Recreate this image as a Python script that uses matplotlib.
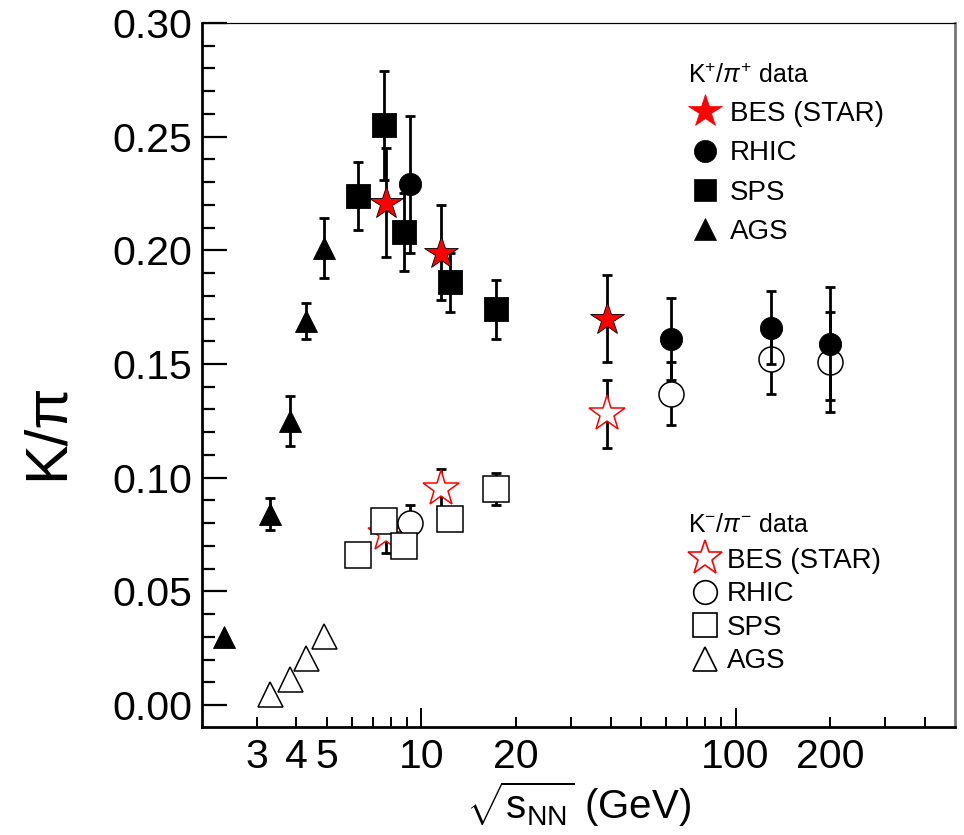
import matplotlib
matplotlib.use("Agg")
import matplotlib.pyplot as plt
from matplotlib.lines import Line2D
from matplotlib.ticker import FixedLocator, FixedFormatter, MultipleLocator, FormatStrFormatter

plt.rcParams['font.family'] = ['Liberation Sans', 'DejaVu Sans']
plt.rcParams['mathtext.fontset'] = 'custom'
plt.rcParams['mathtext.rm'] = 'Liberation Sans'
plt.rcParams['mathtext.it'] = 'Liberation Sans:italic'
plt.rcParams['mathtext.bf'] = 'Liberation Sans:bold'

# ---------------- data: K+/pi+ ----------------
bes_p_x = [7.7, 11.5, 39.0]
bes_p_y = [0.221, 0.199, 0.170]
bes_p_e = [0.024, 0.021, 0.019]

rhic_p_x = [9.2, 62.4, 130.0, 200.0]
rhic_p_y = [0.229, 0.161, 0.166, 0.159]
rhic_p_e = [0.030, 0.018, 0.016, 0.025]

sps_p_x = [6.3, 7.6, 8.8, 12.3, 17.3]
sps_p_y = [0.224, 0.255, 0.208, 0.186, 0.174]
sps_p_e = [0.015, 0.024, 0.017, 0.013, 0.013]

ags_p_x = [2.35, 3.3, 3.8, 4.3, 4.9]
ags_p_y = [0.030, 0.084, 0.125, 0.169, 0.201]
ags_p_e = [0.0, 0.007, 0.011, 0.008, 0.013]

# ---------------- data: K-/pi- ----------------
bes_m_x = [7.7, 11.5, 39.0]
bes_m_y = [0.075, 0.095, 0.128]
bes_m_e = [0.008, 0.009, 0.015]

rhic_m_x = [9.2, 62.4, 130.0, 200.0]
rhic_m_y = [0.080, 0.137, 0.152, 0.151]
rhic_m_e = [0.008, 0.014, 0.015, 0.022]

sps_m_x = [6.3, 7.6, 8.8, 12.3, 17.3]
sps_m_y = [0.066, 0.081, 0.070, 0.082, 0.095]
sps_m_e = [0.003, 0.004, 0.004, 0.005, 0.007]

ags_m_x = [3.3, 3.8, 4.3, 4.9]
ags_m_y = [0.0048, 0.0115, 0.0205, 0.0305]
ags_m_e = [0.0, 0.0, 0.0, 0.0]

xtick_vals = [3, 4, 5, 10, 20, 100, 200]
series_labels = ['BES (STAR)', 'RHIC', 'SPS', 'AGS']

RED = '#ff0000'

fig = plt.figure(figsize=(9.64, 8.35), dpi=100)
ax = fig.add_axes([0.2095, 0.1293, 0.7812, 0.8432])
ax.set_xscale('log')
ax.set_xlim(2.0, 500.0)
ax.set_ylim(-0.0097, 0.30)

eb_kw = dict(fmt='none', ecolor='black', elinewidth=2.0, capsize=3.5, capthick=2.0)

# open (K-/pi-) series
open_series = [
    (bes_m_x, bes_m_y, bes_m_e, '*', 27, RED),
    (rhic_m_x, rhic_m_y, rhic_m_e, 'o', 18, 'black'),
    (sps_m_x, sps_m_y, sps_m_e, 's', 19, 'black'),
    (ags_m_x, ags_m_y, ags_m_e, '^', 18, 'black'),
]
for xs, ys, es, m, ms, ec in open_series:
    ax.errorbar(xs, ys, yerr=es, zorder=2, **eb_kw)
for xs, ys, es, m, ms, ec in open_series:
    ax.plot(xs, ys, linestyle='none', marker=m, markersize=ms, markerfacecolor='white',
            markeredgecolor=ec, markeredgewidth=1.1, zorder=3)

# filled (K+/pi+) series
filled_series = [
    (ags_p_x, ags_p_y, ags_p_e, '^', 16, 'black', 'black'),
    (sps_p_x, sps_p_y, sps_p_e, 's', 17, 'black', 'black'),
    (rhic_p_x, rhic_p_y, rhic_p_e, 'o', 16, 'black', 'black'),
    (bes_p_x, bes_p_y, bes_p_e, '*', 25, RED, 'black'),
]
for xs, ys, es, m, ms, fc, ec in filled_series:
    ax.errorbar(xs, ys, yerr=es, zorder=4, **eb_kw)
for xs, ys, es, m, ms, fc, ec in filled_series:
    ax.plot(xs, ys, linestyle='none', marker=m, markersize=ms, markerfacecolor=fc,
            markeredgecolor=ec, markeredgewidth=0.6, zorder=5)

# ---------------- axes styling ----------------
ax.yaxis.set_major_locator(MultipleLocator(0.05))
ax.yaxis.set_minor_locator(MultipleLocator(0.01))
ax.yaxis.set_major_formatter(FormatStrFormatter('%.2f'))

major_x = [10, 100]
minor_x = [3, 4, 5, 6, 7, 8, 9, 20, 30, 40, 50, 60, 70, 80, 90, 200, 300, 400]
ax.xaxis.set_major_locator(FixedLocator(major_x))
ax.xaxis.set_major_formatter(FixedFormatter([str(v) for v in major_x]))
ax.xaxis.set_minor_locator(FixedLocator(minor_x))
ax.xaxis.set_minor_formatter(FixedFormatter([str(v) if v in xtick_vals else '' for v in minor_x]))

ax.tick_params(axis='y', which='major', direction='in', length=18, width=1.6, labelsize=29.5, pad=7)
ax.tick_params(axis='y', which='minor', direction='in', length=9.5, width=1.6)
ax.tick_params(axis='x', which='major', direction='in', length=14, width=1.4, labelsize=29.5, pad=8)
ax.tick_params(axis='x', which='minor', direction='in', length=7, width=1.4, labelsize=29.5, pad=8)
ax.tick_params(top=False, right=False, which='both')

ax.spines['left'].set_linewidth(2.0)
ax.spines['bottom'].set_linewidth(2.0)
ax.spines['top'].set_linewidth(0.9)
ax.spines['right'].set_linewidth(2.0)
ax.spines['right'].set_color('#777777')

ax.set_ylabel('K/π', fontsize=43)
ax.yaxis.set_label_coords(-0.169, 0.42)
ax.set_xlabel(r'$\sqrt{\mathrm{s}_{\mathrm{NN}}}$ (GeV)', fontsize=29, labelpad=2)

# ---------------- legends ----------------
def handles(filled):
    out = []
    specs = [('*', RED), ('o', 'black'), ('s', 'black'), ('^', 'black')]
    sizes_f = [25, 16, 16, 16]
    sizes_o = [26, 17, 17, 17]
    for (m, c), sf, so in zip(specs, sizes_f, sizes_o):
        if filled:
            out.append(Line2D([], [], linestyle='none', marker=m, markersize=sf,
                              markerfacecolor=c, markeredgecolor=c, markeredgewidth=0.5))
        else:
            out.append(Line2D([], [], linestyle='none', marker=m, markersize=so,
                              markerfacecolor='white', markeredgecolor=c, markeredgewidth=1.2))
    return out

leg1 = ax.legend(handles(True), series_labels, title=r'K$^{+}$/$\pi^{+}$ data',
                 loc='upper left', bbox_to_anchor=(0.62, 0.97), frameon=False,
                 fontsize=20, title_fontsize=18, labelspacing=0.48, handletextpad=0.3,
                 handlelength=1.2, borderpad=0.2)
leg1._legend_box.align = 'left'
ax.add_artist(leg1)

leg2 = ax.legend(handles(False), series_labels, title=r'K$^{-}$/$\pi^{-}$ data',
                 loc='upper left', bbox_to_anchor=(0.62, 0.332), frameon=False,
                 fontsize=20, title_fontsize=18, labelspacing=0.27, handletextpad=0.2,
                 handlelength=1.2, borderpad=0.2)
leg2._legend_box.align = 'left'
leg2._legend_box.sep = 8

fig.savefig('out.png', dpi=100)
